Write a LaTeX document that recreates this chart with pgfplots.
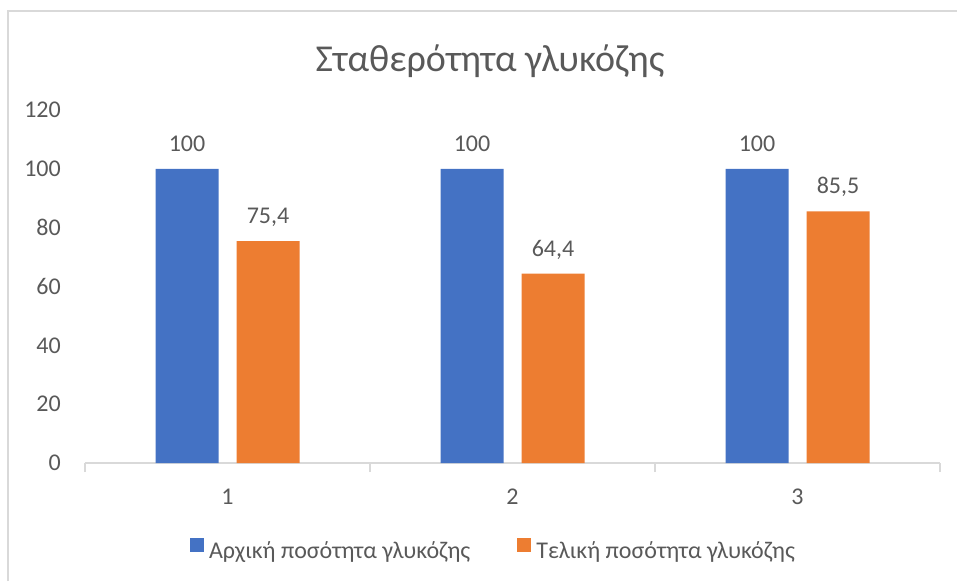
\documentclass[border=0pt]{standalone}
\usepackage{fontspec}
\setmainfont{Carlito}
\usepackage{pgfplots}
\pgfplotsset{compat=1.18}
\definecolor{xblue}{HTML}{4472C4}
\definecolor{xorange}{HTML}{ED7D31}
\definecolor{tgray}{HTML}{595959}
\definecolor{lgray}{HTML}{D9D9D9}
\newcommand{\lbl}{\fontsize{24}{29}\selectfont}
\begin{document}
\begin{tikzpicture}[x=1pt,y=1pt]
\useasboundingbox (0,0) rectangle (957,581);
\draw[lgray, line width=1.3pt] (8,0) -- (8,570) -- (957,570);
\node[anchor=base, text=tgray, inner sep=0pt, font=\fontsize{38}{46}\selectfont] at (490,509) {Σταθερότητα γλυκόζης};
\begin{axis}[
  at={(85pt,118pt)}, anchor=south west,
  scale only axis, width=855pt, height=353pt,
  ybar=18pt, bar width=63pt,
  xmin=0.5, xmax=3.5, ymin=0, ymax=120,
  xtick={1,2,3}, ytick={0,20,...,120},
  minor xtick={0.5,1.5,2.5,3.5},
  major tick length=0pt, minor tick length=9pt,
  tick align=outside,
  axis x line*=bottom, axis y line*=left,
  x axis line style={draw=lgray, line width=1.3pt, -},
  y axis line style={draw=none},
  minor tick style={draw=lgray, line width=1.3pt},
  /pgf/number format/use comma,
  /pgf/number format/1000 sep={},
  /pgf/number format/assume math mode=true,
  yticklabel style={anchor=east, inner sep=0pt, xshift=-24pt, font=\lbl, text=tgray},
  xticklabel style={anchor=base, inner sep=0pt, yshift=-41pt, font=\lbl, text=tgray},
  nodes near coords,
  every node near coord/.append style={anchor=base, yshift=17.5pt, inner sep=0pt, font=\lbl, text=tgray},
  legend style={at={(0.4766,-0.2436)}, anchor=center, draw=none, fill=none, legend columns=2,
    font=\lbl, text=tgray, nodes={inner sep=0pt},
    /tikz/every odd column/.append style={column sep=5pt},
    /tikz/every even column/.append style={column sep=47pt}},
]
\addplot[fill=xblue, draw=none, legend image code/.code={\fill[xblue] (0pt,-1pt) rectangle (14pt,13pt);}]
  coordinates {(1,100) (2,100) (3,100)};
\addplot[fill=xorange, draw=none, legend image code/.code={\fill[xorange] (0pt,-1pt) rectangle (14pt,13pt);}]
  coordinates {(1,75.4) (2,64.4) (3,85.5)};
\legend{Αρχική ποσότητα γλυκόζης, Τελική ποσότητα γλυκόζης}
\end{axis}
\end{tikzpicture}
\end{document}
